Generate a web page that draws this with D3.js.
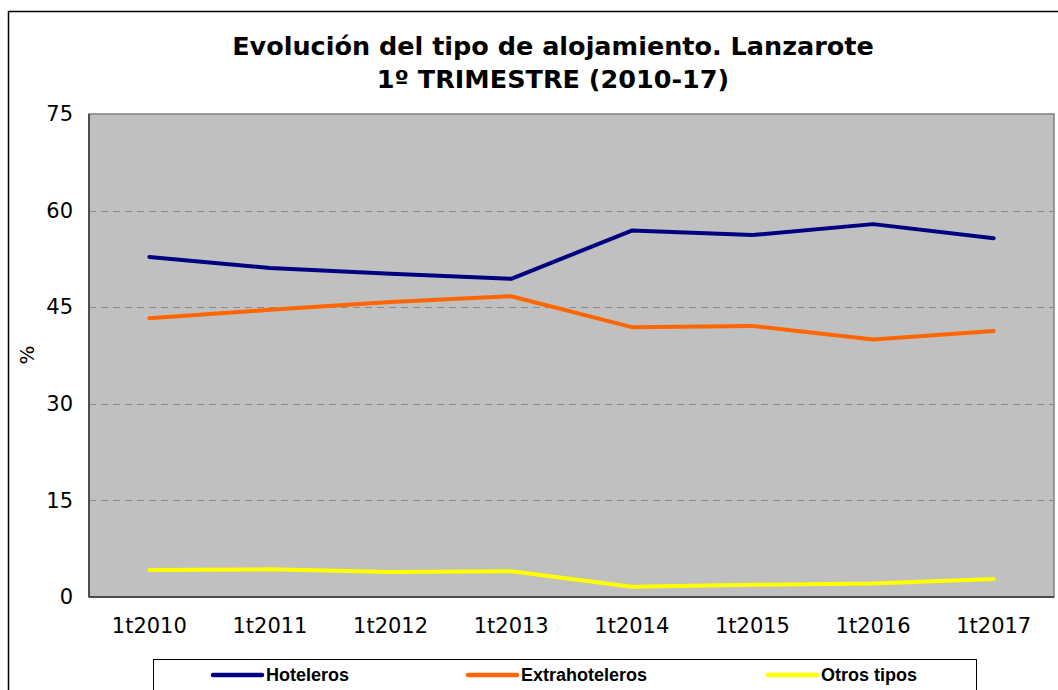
<!DOCTYPE html>
<html>
<head>
    <meta charset="utf-8">
    <title>Evolución del tipo de alojamiento. Lanzarote</title>
    <script src="https://d3js.org/d3.v7.min.js"></script>
    <style>
        body {
            margin: 0;
            background: #fff;
        }
        svg {
            display: block;
        }
        .title {
            font-family: "DejaVu Sans", Verdana, sans-serif;
            font-weight: bold;
            font-size: 25.5px;
            fill: #000;
        }
        .tick text {
            font-family: "DejaVu Sans", Verdana, sans-serif;
            font-size: 21px;
            fill: #000;
        }
        .legend-label {
            font-family: "Liberation Sans", Arial, sans-serif;
            font-weight: bold;
            font-size: 18px;
            fill: #000;
        }
    </style>
</head>
<body>
    <div id="chart"></div>

    <script>
        // Data
        const categories = ["1t2010", "1t2011", "1t2012", "1t2013", "1t2014", "1t2015", "1t2016", "1t2017"];
        const hoteleros = [52.8, 51.1, 50.2, 49.4, 56.9, 56.2, 57.9, 55.7];
        const extrahoteleros = [43.3, 44.6, 45.8, 46.7, 41.9, 42.1, 40.0, 41.3];
        const otrosTipos = [4.2, 4.3, 3.9, 4.0, 1.6, 1.9, 2.1, 2.8];
        const yTicks = [0, 15, 30, 45, 60, 75];

        const seriesNames = ["Hoteleros", "Extrahoteleros", "Otros tipos"];
        const seriesColors = ["#000080", "#FF6600", "#FFFF00"];
        const seriesValues = [hoteleros, extrahoteleros, otrosTipos];

        const width = 1058;
        const height = 690;
        const plot = {left: 89, top: 114, right: 1054, bottom: 597};

        const svg = d3.select("#chart")
            .append("svg")
            .attr("width", width)
            .attr("height", height);

        // Outer chart frame
        svg.append("rect")
            .attr("x", 8.5)
            .attr("y", 11.5)
            .attr("width", 1100)
            .attr("height", 700)
            .attr("fill", "#fff")
            .attr("stroke", "#000")
            .attr("stroke-width", 1.5);

        // Title
        const title = svg.append("text")
            .attr("class", "title")
            .attr("text-anchor", "middle");
        title.append("tspan").attr("x", 553).attr("y", 55).text("Evolución del tipo de alojamiento. Lanzarote");
        title.append("tspan").attr("x", 553).attr("y", 88).text("1º TRIMESTRE (2010-17)");

        const x = d3.scaleBand()
            .domain(categories)
            .range([plot.left, plot.right]);

        const y = d3.scaleLinear()
            .domain([0, 75])
            .range([plot.bottom, plot.top]);

        // Plot background
        svg.append("rect")
            .attr("x", plot.left)
            .attr("y", plot.top)
            .attr("width", plot.right - plot.left)
            .attr("height", plot.bottom - plot.top)
            .attr("fill", "#C0C0C0")
            .attr("stroke", "#808080")
            .attr("stroke-width", 1.5);

        // Dashed gridlines
        svg.append("g")
            .selectAll("line")
            .data(yTicks.filter(d => d > 0 && d < 75))
            .join("line")
            .attr("x1", plot.left)
            .attr("x2", plot.right)
            .attr("y1", d => Math.round(y(d)) + 0.5)
            .attr("y2", d => Math.round(y(d)) + 0.5)
            .attr("stroke", "#8c8c8c")
            .attr("stroke-dasharray", "7,5");

        // Left and bottom axis lines (darker)
        svg.append("line")
            .attr("x1", plot.left).attr("x2", plot.left)
            .attr("y1", plot.top).attr("y2", plot.bottom)
            .attr("stroke", "#333").attr("stroke-width", 1.5);
        svg.append("line")
            .attr("x1", plot.left).attr("x2", plot.right)
            .attr("y1", plot.bottom).attr("y2", plot.bottom)
            .attr("stroke", "#333").attr("stroke-width", 1.5);

        // Y axis
        const yAxis = svg.append("g")
            .attr("transform", `translate(${plot.left},0)`)
            .call(d3.axisLeft(y).tickValues(yTicks).tickSize(0).tickPadding(16));
        yAxis.select(".domain").remove();
        yAxis.selectAll(".tick text").attr("dy", "0.32em");

        // X axis
        const xAxis = svg.append("g")
            .attr("transform", `translate(0,${plot.bottom})`)
            .call(d3.axisBottom(x).tickSize(0).tickPadding(21));
        xAxis.select(".domain").remove();

        // Y axis title
        svg.append("text")
            .attr("transform", "translate(34,355) rotate(-90)")
            .attr("text-anchor", "middle")
            .attr("font-family", "DejaVu Sans, Verdana, sans-serif")
            .attr("font-size", 20)
            .text("%");

        // Lines
        const line = d3.line()
            .x((d, i) => x(categories[i]) + x.bandwidth() / 2)
            .y(d => y(d));

        svg.append("g")
            .selectAll("path")
            .data(seriesValues)
            .join("path")
            .attr("d", d => line(d))
            .attr("fill", "none")
            .attr("stroke", (d, i) => seriesColors[i])
            .attr("stroke-width", 4)
            .attr("stroke-linejoin", "round")
            .attr("stroke-linecap", "round");

        // Legend
        svg.append("rect")
            .attr("x", 153.5)
            .attr("y", 659.5)
            .attr("width", 823)
            .attr("height", 60)
            .attr("fill", "#fff")
            .attr("stroke", "#000");

        const legendX = [213, 468, 768];
        const legend = svg.append("g")
            .selectAll("g")
            .data(seriesNames)
            .join("g")
            .attr("transform", (d, i) => `translate(${legendX[i]},675)`);

        legend.append("line")
            .attr("x1", 0).attr("x2", 49)
            .attr("stroke", (d, i) => seriesColors[i])
            .attr("stroke-width", 4.5)
            .attr("stroke-linecap", "round");

        legend.append("text")
            .attr("class", "legend-label")
            .attr("x", 53)
            .attr("dy", "0.36em")
            .text(d => d);
    </script>
</body>
</html>
